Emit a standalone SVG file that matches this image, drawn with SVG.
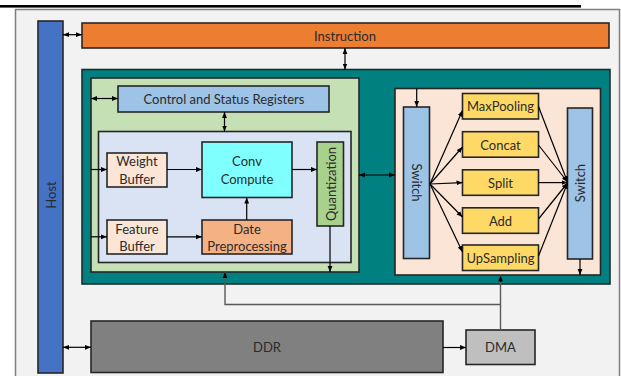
<svg xmlns="http://www.w3.org/2000/svg" width="621" height="376" viewBox="0 0 621 376">
<defs>
<marker id="ah" viewBox="0 0 10 10" refX="10" refY="5" markerWidth="6" markerHeight="6" markerUnits="userSpaceOnUse" orient="auto-start-reverse"><path d="M0,1 L10,5 L0,9 z" fill="#000"/></marker>
<style>
.bx{stroke:#262626;stroke-width:1.6}
.t{font-family:Lato,"Liberation Sans",sans-serif;font-size:13px;fill:#2b2b2b;text-anchor:middle;dominant-baseline:central}
.c{fill:none;stroke:#000;stroke-width:1.2}
.g{fill:none;stroke:#595959;stroke-width:1.4}
</style>
</defs>
<rect x="0" y="5" width="581" height="2.6" fill="#000"/>
<rect x="15.5" y="9.5" width="604" height="380" fill="#f2f2f2" stroke="#7f7f7f" stroke-width="1.5"/>

<g id="host"><rect class="bx" x="38" y="21" width="25" height="352" fill="#4472c4"/><text class="t" transform="translate(50.5,195) rotate(-90)">Host</text></g>
<g id="instruction"><rect class="bx" x="82" y="23" width="527" height="25" fill="#ed7d31"/><text class="t" x="345" y="35.5">Instruction</text></g>
<g id="accelerator"><rect x="82" y="69.5" width="528" height="214.5" fill="#008080" stroke="#1a2e2e" stroke-width="1.6"/></g>
<g id="conv-engine"><rect class="bx" x="91" y="78" width="268" height="194" fill="#c5e0b4"/></g>
<g id="csr"><rect class="bx" x="118" y="86" width="211" height="26" fill="#9dc3e6"/><text class="t" x="224" y="99">Control and Status Registers</text></g>
<g id="datapath"><rect class="bx" x="98.5" y="131.5" width="252.5" height="131" fill="#dae3f3"/></g>
<g id="weight-buffer"><rect class="bx" x="107" y="153" width="60" height="34" fill="#fbe5d6"/><text class="t" x="137" y="161">Weight</text><text class="t" x="137" y="178.5">Buffer</text></g>
<g id="feature-buffer"><rect class="bx" x="107" y="220" width="60" height="34" fill="#fbe5d6"/><text class="t" x="137" y="228.5">Feature</text><text class="t" x="137" y="245.5">Buffer</text></g>
<g id="conv-compute"><rect class="bx" x="202" y="142" width="90" height="55.5" fill="#80ffff"/><text class="t" x="247" y="161">Conv</text><text class="t" x="247" y="178.5">Compute</text></g>
<g id="date-preprocessing"><rect class="bx" x="202" y="220" width="90" height="34" fill="#f4b183"/><text class="t" x="247" y="228.5">Date</text><text class="t" x="247" y="245.5">Preprocessing</text></g>
<g id="quantization"><rect class="bx" x="317" y="142" width="26.5" height="84" fill="#a9d18e"/><text class="t" transform="translate(330.5,184) rotate(-90)">Quantization</text></g>
<g id="post-engine"><rect class="bx" x="395" y="88.5" width="205.5" height="186.5" fill="#fbe5d6"/></g>
<g id="switch-in"><rect class="bx" x="403.5" y="107" width="26" height="151.5" fill="#9dc3e6"/><text class="t" transform="translate(416.5,182.5) rotate(90)">Switch</text></g>
<g id="switch-out"><rect class="bx" x="567.5" y="108" width="25" height="151" fill="#9dc3e6"/><text class="t" transform="translate(580,183) rotate(-90)">Switch</text></g>
<g id="maxpooling"><rect class="bx" x="462.5" y="93.5" width="76" height="25.5" fill="#ffd966"/><text class="t" x="500.5" y="106.3">MaxPooling</text></g>
<g id="concat"><rect class="bx" x="462.5" y="131.7" width="76" height="25.5" fill="#ffd966"/><text class="t" x="500.5" y="144.5">Concat</text></g>
<g id="split"><rect class="bx" x="462.5" y="169.8" width="76" height="25.5" fill="#ffd966"/><text class="t" x="500.5" y="182.6">Split</text></g>
<g id="add"><rect class="bx" x="462.5" y="207.8" width="76" height="25.5" fill="#ffd966"/><text class="t" x="500.5" y="220.6">Add</text></g>
<g id="upsampling"><rect class="bx" x="462.5" y="245" width="76" height="25.5" fill="#ffd966"/><text class="t" x="500.5" y="257.8">UpSampling</text></g>
<g id="ddr"><rect class="bx" x="91" y="321" width="352" height="51.5" fill="#808080"/><text class="t" x="267" y="347">DDR</text></g>
<g id="dma"><rect class="bx" x="466" y="330" width="69" height="34.5" fill="#bfbfbf"/><text class="t" x="500.5" y="347">DMA</text></g>

<g id="connectors">
<path class="c" d="M63,34.7 H82" marker-start="url(#ah)" marker-end="url(#ah)"/>
<path class="c" d="M345,48 V69.5" marker-start="url(#ah)" marker-end="url(#ah)"/>
<path class="c" d="M91,98.5 H118" marker-start="url(#ah)" marker-end="url(#ah)"/>
<path class="c" d="M224.5,112 V131.5" marker-start="url(#ah)" marker-end="url(#ah)"/>
<path class="c" d="M91,169.5 H107" marker-end="url(#ah)"/>
<path class="c" d="M91,236.8 H107" marker-end="url(#ah)"/>
<path class="c" d="M167,169.5 H202" marker-end="url(#ah)"/>
<path class="c" d="M167,236.8 H202" marker-end="url(#ah)"/>
<path class="c" d="M246.7,220 V197.5" marker-end="url(#ah)"/>
<path class="c" d="M292,169.5 H317" marker-end="url(#ah)"/>
<path class="c" d="M330,226 V272" marker-end="url(#ah)"/>
<path class="c" d="M359,175 H395" marker-start="url(#ah)" marker-end="url(#ah)"/>
<path class="c" d="M416.7,88.5 V107" marker-end="url(#ah)"/>
<path class="c" d="M580,259 V275" marker-end="url(#ah)"/>
<path class="c" d="M430,184 L462.5,110.5" marker-end="url(#ah)"/>
<path class="c" d="M430,184 L462.5,147" marker-end="url(#ah)"/>
<path class="c" d="M430,184 L462.5,182.6" marker-end="url(#ah)"/>
<path class="c" d="M430,184 L462.5,217" marker-end="url(#ah)"/>
<path class="c" d="M430,184 L462.5,252" marker-end="url(#ah)"/>
<path class="c" d="M538.5,106.5 L567.5,182" marker-end="url(#ah)"/>
<path class="c" d="M538.5,145 L567.5,182" marker-end="url(#ah)"/>
<path class="c" d="M538.5,182.6 L567.5,182.6" marker-end="url(#ah)"/>
<path class="c" d="M538.5,219 L567.5,183" marker-end="url(#ah)"/>
<path class="c" d="M538.5,256 L567.5,183" marker-end="url(#ah)"/>
<path class="g" d="M500.5,330 V275.5" marker-end="url(#ah)"/>
<path class="g" d="M500.5,304.5 H225 V272" marker-end="url(#ah)"/>
<path class="c" d="M63,347.3 H91" marker-start="url(#ah)" marker-end="url(#ah)"/>
<path class="c" d="M443,347.5 H466" marker-end="url(#ah)"/>
</g>
</svg>
